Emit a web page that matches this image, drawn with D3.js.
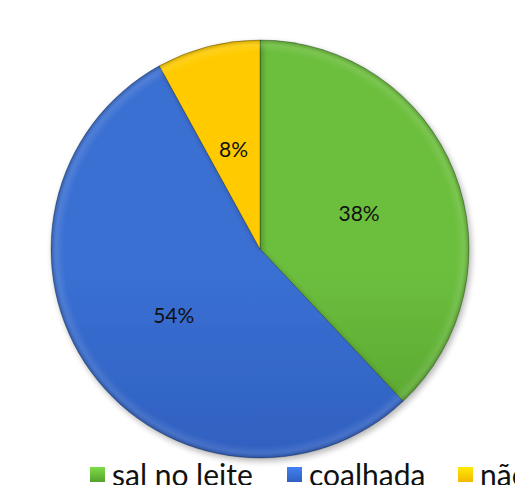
<!DOCTYPE html>
<html>
<head>
<meta charset="utf-8">
<script src="https://cdn.jsdelivr.net/npm/d3@7"></script>
<style>
  body { margin: 0; background: #fff; overflow: hidden; }
  svg { display: block; }
</style>
</head>
<body>
<div id="chart"></div>
<script>
// data
const categories = ["sal no leite", "coalhada", "não"];
const values = [38, 54, 8];
const labels = ["38%", "54%", "8%"];
const colors = ["#6cbf3e", "#3a70d3", "#ffcb05"];
const darkColors = ["#55a12c", "#2f60c0", "#f2b800"];

const width = 515, height = 485;
const cx = 260, cy = 249, radius = 209;

const svg = d3.select("#chart").append("svg")
  .attr("width", width)
  .attr("height", height);

const defs = svg.append("defs");

// soft shadow under the pie
const shadow = defs.append("filter").attr("id", "shadow")
  .attr("x", "-20%").attr("y", "-20%").attr("width", "140%").attr("height", "140%");
shadow.append("feGaussianBlur").attr("in", "SourceAlpha").attr("stdDeviation", 3);
shadow.append("feOffset").attr("dx", 2).attr("dy", 3).attr("result", "off");
shadow.append("feComponentTransfer").append("feFuncA").attr("type", "linear").attr("slope", 0.3);
const merge = shadow.append("feMerge");
merge.append("feMergeNode");
merge.append("feMergeNode").attr("in", "SourceGraphic");

colors.forEach((c, i) => {
  const g = defs.append("linearGradient").attr("id", "grad" + i)
    .attr("gradientUnits", "userSpaceOnUse")
    .attr("x1", 0).attr("y1", -radius).attr("x2", 0).attr("y2", radius);
  g.append("stop").attr("offset", "0%").attr("stop-color", c);
  g.append("stop").attr("offset", "55%").attr("stop-color", c);
  g.append("stop").attr("offset", "100%").attr("stop-color", darkColors[i]);

  const lg = defs.append("linearGradient").attr("id", "lgrad" + i)
    .attr("x1", 0).attr("y1", 0).attr("x2", 0).attr("y2", 1);
  lg.append("stop").attr("offset", "0%").attr("stop-color", d3.color(c).brighter(0.4));
  lg.append("stop").attr("offset", "100%").attr("stop-color", darkColors[i]);
});

// bevel along the rim
const rim = defs.append("radialGradient").attr("id", "rim")
  .attr("gradientUnits", "userSpaceOnUse")
  .attr("cx", 0).attr("cy", 0).attr("r", radius);
rim.append("stop").attr("offset", "94%").attr("stop-color", "#fff").attr("stop-opacity", 0);
rim.append("stop").attr("offset", "97.5%").attr("stop-color", "#fff").attr("stop-opacity", 0.1);
rim.append("stop").attr("offset", "100%").attr("stop-color", "#000").attr("stop-opacity", 0.2);

const data = categories.map((c, i) => ({ name: c, value: values[i], label: labels[i], i }));

const pie = d3.pie().sort(null).value(d => d.value);
const arc = d3.arc().innerRadius(0).outerRadius(radius);
const labelArc = d3.arc().innerRadius(0).outerRadius(radius * 1.02);

const g = svg.append("g").attr("transform", `translate(${cx},${cy})`);
const arcs = pie(data);

g.selectAll("path.slice")
  .data(arcs)
  .join("path")
  .attr("class", "slice")
  .attr("d", arc)
  .attr("fill", d => `url(#grad${d.data.i})`)
  .attr("stroke", "rgba(0,0,0,0.35)")
  .attr("stroke-width", 0.8)
  .attr("filter", "url(#shadow)");

g.selectAll("path.rim")
  .data(arcs)
  .join("path")
  .attr("class", "rim")
  .attr("d", arc)
  .attr("fill", "url(#rim)")
  .attr("pointer-events", "none");

g.selectAll("text.lbl")
  .data(arcs)
  .join("text")
  .attr("class", "lbl")
  .attr("transform", d => `translate(${labelArc.centroid(d)})`)
  .attr("text-anchor", "middle")
  .attr("dy", "0.55em")
  .style("font-family", "Lato, 'Open Sans', sans-serif")
  .style("font-size", "21px")
  .style("fill", "#111")
  .text(d => d.data.label);

// legend
const legendX = [90, 287, 458];
const legend = svg.append("g");
const item = legend.selectAll("g")
  .data(data)
  .join("g")
  .attr("transform", (d, i) => `translate(${legendX[i]},467)`);
item.append("rect")
  .attr("width", 15).attr("height", 15)
  .attr("fill", d => `url(#lgrad${d.i})`);
item.append("text")
  .attr("x", 22).attr("y", 19)
  .style("font-family", "Lato, 'Open Sans', sans-serif")
  .style("font-size", "30px")
  .style("fill", "#111")
  .text(d => d.name);
</script>
</body>
</html>
